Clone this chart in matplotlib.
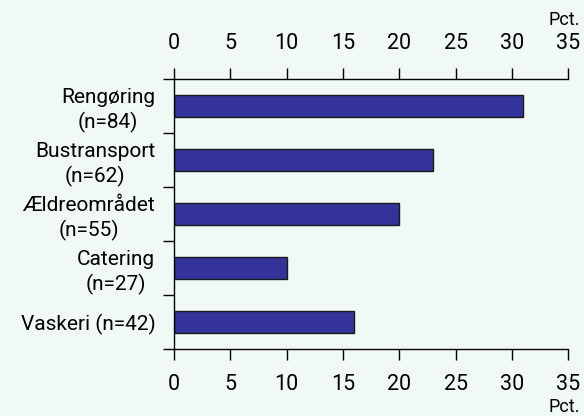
import numpy as np
from matplotlib import pyplot as plt

labels = ['Rengøring\n(n=84)', 'Bustransport\n(n=62)', 'Ældreområdet\n(n=55)',
          'Catering\n(n=27)', 'Vaskeri (n=42)']
values = [31, 23, 20, 10, 16]
xticks = [0, 5, 10, 15, 20, 25, 30, 35]

plt.rcParams['font.family'] = ['Roboto', 'DejaVu Sans']

bg = '#f0f9f6'
fig = plt.figure(figsize=(5.84, 4.16), dpi=100, facecolor=bg)
ax = fig.add_axes([0.298, 0.161, 0.675, 0.649], facecolor=bg)

pos = np.arange(len(values))
ax.barh(pos, values, height=0.41, color='#333399', edgecolor='#1a1a1a', linewidth=1)

ax.set_xlim(0, 35)
ax.set_ylim(len(values) - 0.5, -0.5)

# category boundaries as major ticks, names as minor
ax.set_yticks(np.arange(-0.5, len(values), 1.0))
ax.set_yticklabels([])
ax.set_yticks(pos, minor=True)
ax.set_yticklabels(labels, minor=True, fontsize=15, multialignment='center',
                   linespacing=1.25)
ax.tick_params(axis='y', which='major', direction='out', length=8, width=1)
ax.tick_params(axis='y', which='minor', length=0, pad=13.5)

ax.set_xticks(xticks)
ax.set_xticklabels([str(t) for t in xticks])
ax.tick_params(axis='x', which='major', direction='out', length=8, width=1,
               top=True, labeltop=True, labelsize=15.5, pad=10)

ax.spines['right'].set_visible(False)
for s in ['top', 'bottom', 'left']:
    ax.spines[s].set_linewidth(1)

fig.text(0.993, 1 - 25 / 416, 'Pct.', ha='right', va='baseline', fontsize=13)
fig.text(0.993, 4 / 416, 'Pct.', ha='right', va='baseline', fontsize=13)

plt.savefig('out.png', dpi=100, facecolor=bg)
